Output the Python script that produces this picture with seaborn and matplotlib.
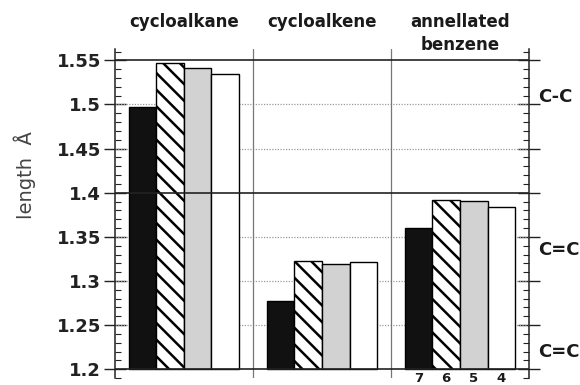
import matplotlib
matplotlib.use("Agg")
import matplotlib.pyplot as plt
from matplotlib.ticker import MultipleLocator
import pandas as pd
import seaborn as sns

# bond lengths (A), one list per compound class
groups = ["cycloalkane", "cycloalkene", "annellated\nbenzene"]
ring_sizes = ["7", "6", "5", "4"]
cycloalkane = [1.497, 1.547, 1.541, 1.535]
cycloalkene = [1.277, 1.323, 1.319, 1.322]
benzene = [1.360, 1.392, 1.391, 1.384]

bond_labels = ["C-C", "C=C", "C=C"]
bond_label_y = [1.509, 1.335, 1.219]

base = 1.2
solid_levels = [1.2, 1.4, 1.55]
dotted_levels = [1.25, 1.3, 1.35, 1.45, 1.5]

rows = []
for g, vals in zip(groups, [cycloalkane, cycloalkene, benzene]):
    for r, v in zip(ring_sizes, vals):
        rows.append({"group": g, "ring": r, "length": v})
df = pd.DataFrame(rows)
df["height"] = df["length"] - base

sns.set_style("white")
plt.rcParams["font.family"] = ["DejaVu Sans"]
plt.rcParams["font.weight"] = "bold"
plt.rcParams["hatch.linewidth"] = 1.8

fig, ax = plt.subplots(figsize=(5.8, 3.85), dpi=100)
fig.subplots_adjust(left=0.198, right=0.912, bottom=0.018, top=0.873)

colors = ["#111111", "white", "#d2d2d2", "white"]
sns.barplot(data=df, x="group", y="height", hue="ring", palette=colors,
            saturation=1, bottom=base, width=0.8, edgecolor="black",
            linewidth=1, legend=False, ax=ax, zorder=2)

for bar in ax.containers[1]:
    bar.set_hatch("\\\\")

ax.set_xlim(-0.5, 2.5)
ax.set_ylim(1.19, 1.563)

# reference lines
for y in dotted_levels:
    ax.axhline(y, color="#9a9a9a", lw=0.9, ls=(0, (1, 1.2)), zorder=1)
for y in solid_levels:
    ax.axhline(y, color="#222222", lw=1.2, zorder=3)
for x in [0.5, 1.5]:
    ax.axvline(x, color="#777777", lw=0.9, zorder=1)

# axes, ticks
for side in ["top", "bottom"]:
    ax.spines[side].set_visible(False)
for side in ["left", "right"]:
    ax.spines[side].set_color("#222222")
    ax.spines[side].set_linewidth(1.1)

ax.yaxis.set_major_locator(MultipleLocator(0.05))
ax.yaxis.set_minor_locator(MultipleLocator(0.01))
ax.yaxis.set_major_formatter(lambda v, p: f"{v:g}")
ax.tick_params(axis="y", which="major", direction="inout", length=16, width=1,
               left=True, right=True, labelsize=13, pad=2, colors="#222222")
ax.tick_params(axis="y", which="minor", direction="in", length=4, width=0.8,
               left=True, right=True, colors="#222222")
ax.tick_params(axis="x", bottom=False, top=False, labelbottom=False)
ax.set_xlabel("")

ax.set_ylabel("length  Å", fontsize=14, fontweight="normal", color="#444444", va="center")
ax.yaxis.set_label_coords(-0.217, 0.617)

# class names above the plot
for i, g in enumerate(groups):
    ax.text(i, 1.109, g, transform=ax.get_xaxis_transform(), ha="center", va="top",
            fontsize=12, linespacing=1.35, color="#1a1a1a", clip_on=False)

# bond type labels on the right
for lbl, y in zip(bond_labels, bond_label_y):
    ax.text(1.022, y, lbl, transform=ax.get_yaxis_transform(), ha="left", va="center",
            fontsize=13, color="#1a1a1a", clip_on=False)

# ring sizes under the last group
for r, cont in zip(ring_sizes, ax.containers):
    bar = cont[2]
    ax.annotate(r, (bar.get_x() + bar.get_width() / 2, base), xytext=(0, -2),
                textcoords="offset points", ha="center", va="top",
                fontsize=9.5, color="#1a1a1a", annotation_clip=False)

fig.savefig("out.png", dpi=100)
